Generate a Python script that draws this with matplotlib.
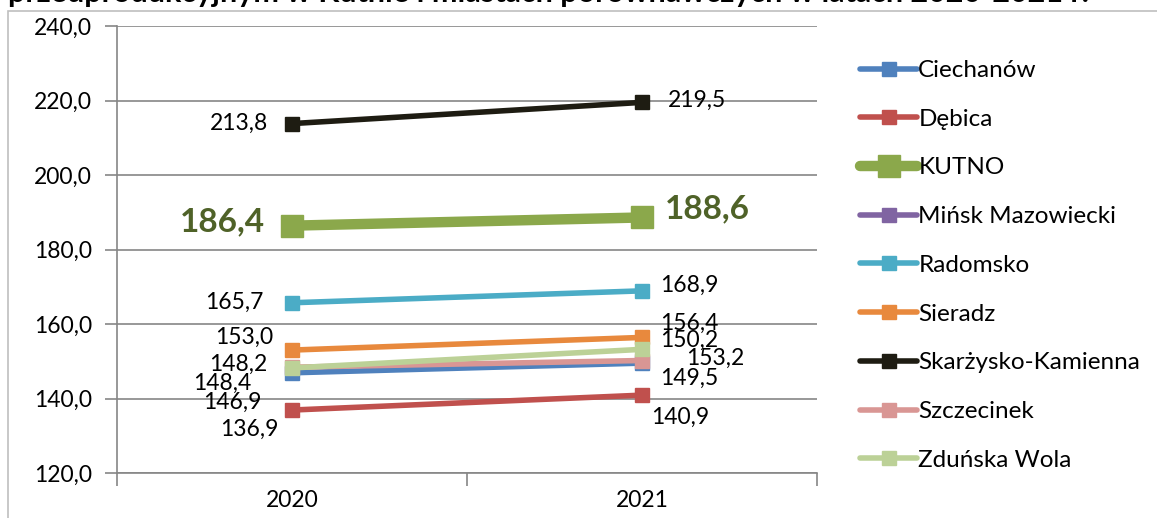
import numpy as np
import matplotlib
matplotlib.use("Agg")
import matplotlib.pyplot as plt
from matplotlib.patches import Rectangle

plt.rcParams["font.family"] = ["Lato", "DejaVu Sans"]

# ── data ──────────────────────────────────────────────
years = ["2020", "2021"]
cities = ["Ciechanów", "Dębica", "KUTNO", "Mińsk Mazowiecki", "Radomsko",
          "Sieradz", "Skarżysko-Kamienna", "Szczecinek", "Zduńska Wola"]
ciechanow = [146.9, 149.5]
debica = [136.9, 140.9]
kutno = [186.4, 188.6]
minsk = [np.nan, np.nan]          # no values shown for Mińsk Mazowiecki
radomsko = [165.7, 168.9]
sieradz = [153.0, 156.4]
skarzysko = [213.8, 219.5]
szczecinek = [148.4, 150.2]
zdunska = [148.2, 153.2]
yticks = [120, 140, 160, 180, 200, 220, 240]

series = [ciechanow, debica, kutno, minsk, radomsko,
          sieradz, skarzysko, szczecinek, zdunska]
colors = ["#4F81BD", "#C0504D", "#8BA84B", "#8064A2", "#4BACC6",
          "#E8893D", "#1E1C12", "#D99694", "#BCD197"]

# label offsets in pixels (dx, dy downward); 2020 left of point, 2021 right
off_2020 = [(-31, 30), (-14, 19), (-27, -4), None, (-29, 0),
            (-19, -13), (-24, 0), (-41, 16), (-25, -4)]
off_2021 = [(18, 15), (9, 22), (23, -9), None, (18, -6),
            (18, -14), (26, -2), (18, -20), (44, 9)]

W, H = 1157, 518
fig = plt.figure(figsize=(W / 100, H / 100), dpi=100)
ax = fig.add_axes([117 / W, 1 - 473 / H, 700 / W, 447 / H])

# chart-area frame (only left/top edges visible) and clipped title
fig.patches.append(Rectangle((8 / W, -0.2), 1.2, 1 - 11 / H + 0.2,
                             transform=fig.transFigure, fill=False,
                             edgecolor="#BFBFBF", linewidth=1.2))
fig.text(8 / W, 1 - 2 / H,
         "przedprodukcyjnym w Kutnie i miastach porównawczych w latach 2020-2021 r.",
         fontsize=22, fontweight="bold", va="baseline", ha="left")

x = np.arange(len(years)) + 0.5
for i, (name, vals, col) in enumerate(zip(cities, series, colors)):
    big = name == "KUTNO"
    ax.plot(x, vals, color=col, lw=7.5 if big else 4,
            marker="s", ms=16 if big else 10, label=name,
            solid_capstyle="round", zorder=4 if big else 3)
    for j, off in enumerate((off_2020[i], off_2021[i])):
        if off is None or np.isnan(vals[j]):
            continue
        txt = f"{vals[j]:.1f}".replace(".", ",")
        ax.annotate(txt, (x[j], vals[j]), xytext=(off[0], -off[1]),
                    textcoords="offset pixels",
                    ha="right" if j == 0 else "left", va="center",
                    fontsize=24 if big else 16.5,
                    fontweight="bold" if big else "normal",
                    color="#4F6228" if big else "black", zorder=6)

ax.set_xlim(0, len(years))
ax.set_ylim(yticks[0], yticks[-1])
ax.set_yticks(yticks)
ax.set_yticklabels([f"{v:.1f}".replace(".", ",") for v in yticks], fontsize=16.5)
ax.set_xticks([0, 1, 2])
ax.set_xticklabels([])
ax.set_xticks(x, minor=True)
ax.set_xticklabels(years, minor=True, fontsize=16.5)
ax.tick_params(axis="x", which="minor", length=0, pad=12)
ax.tick_params(axis="x", which="major", length=9, width=1.2, color="#868686",
               direction="out")
ax.tick_params(axis="y", length=9, width=1.2, color="#868686", pad=9)
ax.yaxis.grid(True, color="#868686", linewidth=1.2)
ax.set_axisbelow(True)
for s in ("top", "right"):
    ax.spines[s].set_visible(False)
for s in ("left", "bottom"):
    ax.spines[s].set_color("#868686")
    ax.spines[s].set_linewidth(1.2)

leg = ax.legend(loc="upper left", bbox_to_anchor=(860 / W, 1 - 60 / H),
                bbox_transform=fig.transFigure, frameon=False, fontsize=17.5,
                handlelength=2.35, handletextpad=0.05, labelspacing=1.14,
                borderaxespad=0, borderpad=0)

fig.savefig("out.png", dpi=100)
